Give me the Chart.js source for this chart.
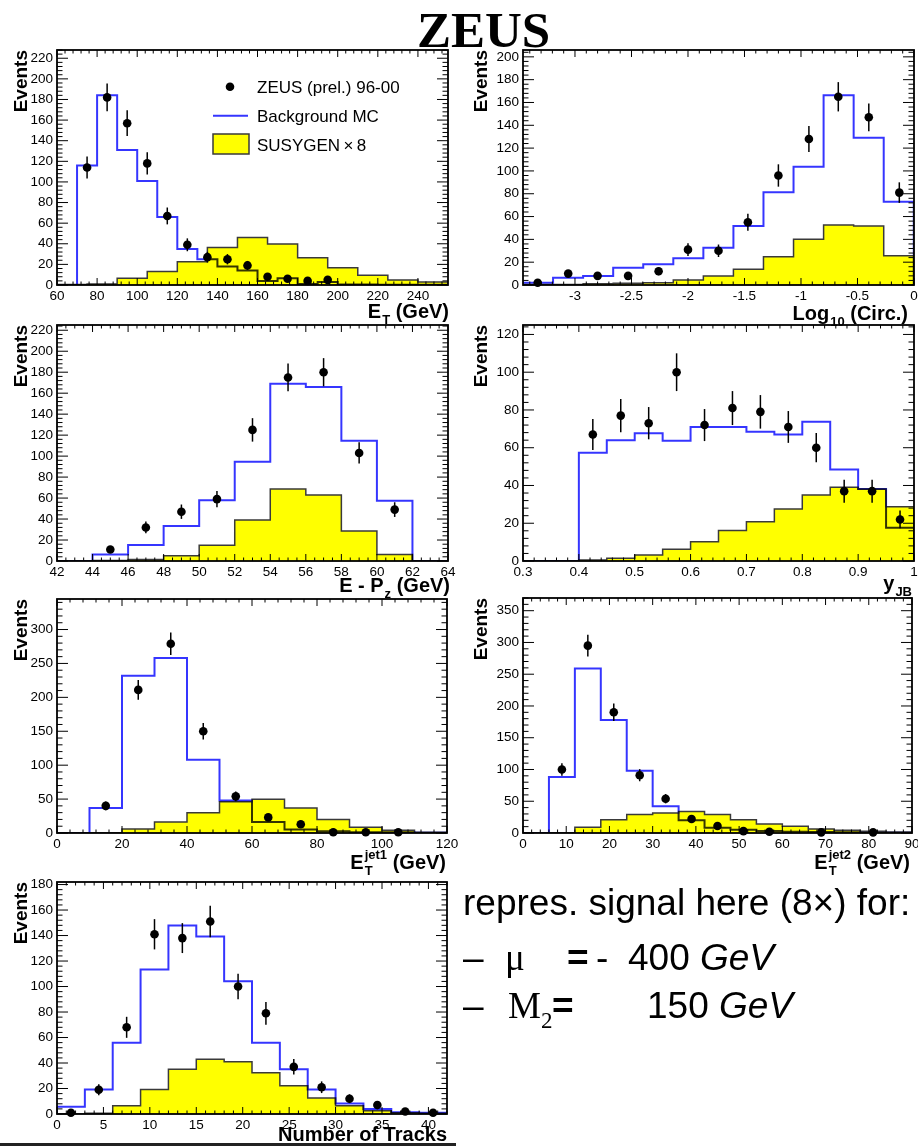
<!DOCTYPE html>
<html>
<head>
<meta charset="utf-8">
<title>ZEUS</title>
<script src="https://cdn.jsdelivr.net/npm/chart.js@4.4.1/dist/chart.umd.min.js"></script>
<style>
  html, body { margin: 0; padding: 0; background: #fff; }
  body { position: relative; width: 918px; height: 1146px; overflow: hidden; font-family: "Liberation Sans", Arial, sans-serif; }
  canvas { position: absolute; }
  .line { position: absolute; white-space: pre; line-height: 1; color: #000; font-size: 37px; }
  .cell { display: inline-block; }
  .serif { font-family: "Liberation Serif", "Times New Roman", serif; }
  #zeus { position: absolute; left: 417px; top: 5px; font: bold 51px/1 "Liberation Serif", "Times New Roman", serif; }
  #rule { position: absolute; left: 0; top: 1143px; width: 456px; height: 3px; background: #222; }
</style>
</head>
<body>
<div id="zeus">ZEUS</div>
<canvas id="cEt"></canvas>
<canvas id="cCirc"></canvas>
<canvas id="cEpz"></canvas>
<canvas id="cYjb"></canvas>
<canvas id="cJet1"></canvas>
<canvas id="cJet2"></canvas>
<canvas id="cTracks"></canvas>

<div class="line" style="left:463px; top:884px;">repres. signal here (8×) for:</div>
<div class="line" style="left:463px; top:939px;"><span class="cell" style="width:42px">–</span><span class="cell serif" style="width:62px">μ</span><span class="cell" style="width:29px; font-weight:bold">=</span><span class="cell" style="width:32px">-</span>400 <i>GeV</i></div>
<div class="line" style="left:463px; top:987px;"><span class="cell" style="width:45px">–</span><span class="cell serif" style="width:44px">M<span style="font-size:23px; position:relative; top:10px">2</span></span><span class="cell" style="width:95px; font-weight:bold">=</span>150 <i>GeV</i></div>
<div id="rule"></div>

<script>
// Binning is [low edge, bin width]; data points carry sqrt(N) errors.

// E_T
const etBkgBins = [60, 10];
const etBkg = [0, 116, 184, 131, 101, 66, 35, 25, 18, 14, 4, 6.5, 1, 3, 0.5, 0.5, 0.3, 0.3, 0.3, 0.3];
const etSigBins = [60, 15];
const etSig = [0.5, 1, 6.5, 13, 22.6, 36.5, 46.2, 39.7, 26.5, 16.8, 9.4, 4.8, 2.9];
const etDataX = [75, 85, 95, 105, 115, 125, 135, 145, 155, 165, 175, 185, 195];
const etData = [114, 182, 157, 118, 67, 39, 27, 25, 19, 8, 6, 4, 5];

// log10(circularity)
const circBins = [-3.46, 0.266];
const circBkg = [2, 6.4, 7.9, 15.2, 18.1, 23.4, 32.7, 51.7, 81.2, 103.6, 166.4, 129, 73];
const circSig = [0.5, 0.5, 1, 1.5, 2, 4.4, 7.9, 13.7, 24.8, 40, 52.6, 51.7, 25.7];
const circDataX = [-3.33, -3.06, -2.8, -2.53, -2.26, -2.0, -1.73, -1.47, -1.2, -0.93, -0.67, -0.4, -0.13];
const circData = [2, 10, 8, 8, 12, 31, 30, 55, 96, 128, 165, 147, 81];

// E - Pz
const epzBins = [42, 2];
const epzBkg = [0, 6.3, 15.2, 33.3, 58, 94.6, 169, 166, 114.6, 57.5, 0];
const epzSig = [0, 0.5, 1.5, 5, 15, 39, 68.6, 62.9, 28.6, 6.3, 0];
const epzDataX = [45, 47, 49, 51, 53, 55, 57, 59, 61];
const epzData = [11, 32, 47, 59, 125, 175, 180, 103, 49];

// y_JB
const yjbBins = [0.3, 0.05];
const yjbBkg = [0, 0, 57.4, 64, 67.6, 63.7, 71, 71, 68.5, 67, 73.8, 48.5, 38.1, 17.6];
const yjbSig = [0, 0, 0.5, 1.4, 3.2, 6.2, 10.2, 16.1, 20.8, 27.5, 35, 39, 38.1, 28.8];
const yjbDataX = [0.425, 0.475, 0.525, 0.575, 0.625, 0.675, 0.725, 0.775, 0.825, 0.875, 0.925, 0.975];
const yjbData = [67, 77, 73, 100, 72, 81, 79, 71, 60, 37, 37, 22];

// E_T of leading jet
const jet1Bins = [0, 10];
const jet1Bkg = [0, 37, 232, 258, 108, 48, 16.4, 5, 2.5, 1, 1, 0.5];
const jet1Sig = [0, 0.5, 6, 16.4, 29.8, 46, 49.6, 36.7, 19.8, 8.4, 4, 1];
const jet1DataX = [15, 25, 35, 45, 55, 65, 75, 85, 95, 105];
const jet1Data = [40, 211, 279, 150, 54, 23, 13, 1, 1, 1];

// E_T of second jet
const jet2Bins = [0, 6];
const jet2Bkg = [0, 88, 259, 178, 98, 42, 20, 8.4, 5.2, 3, 2, 1.5, 1, 0.5, 0.5];
const jet2Sig = [0, 0.5, 9, 21, 29, 31.5, 34, 29, 21, 14.2, 10.5, 6.3, 4.2, 2.6, 1.5];
const jet2DataX = [9, 15, 21, 27, 33, 39, 45, 51, 57, 69, 81];
const jet2Data = [100, 295, 190, 91, 54, 22, 11, 3, 2, 1, 1];

// number of tracks
const trkBins = [0, 3];
const trkBkg = [5.7, 19.3, 55.8, 113.4, 147.9, 139.3, 104.1, 55.8, 35.2, 19.3, 8.3, 3.9, 1.3, 1];
const trkSig = [0, 0.5, 6.5, 19.3, 35.2, 43, 41, 32.3, 22.2, 12.5, 6.5, 2.6, 1, 0.5];
const trkDataX = [1.5, 4.5, 7.5, 10.5, 13.5, 16.5, 19.5, 22.5, 25.5, 28.5, 31.5, 34.5, 37.5, 40.5];
const trkData = [1, 19, 68, 141, 138, 151, 100, 79, 37, 21, 12, 7, 2, 1];

const FONT = '"Liberation Sans", Arial, sans-serif';
const BLUE = '#3535ff';
const YELLOW = '#ffff00';
const OUTLINE = '#3a3a3a';
const TITLE_FONT = 'bold 20px ' + FONT;
const SMALL_FONT = 'bold 13px ' + FONT;

// outline of a histogram as points for a stepped line
function histPoints(bins, values) {
  const [lo, w] = bins;
  const pts = [{ x: lo, y: 0 }];
  values.forEach((v, i) => pts.push({ x: lo + i * w, y: v }));
  const hi = lo + values.length * w;
  pts.push({ x: hi, y: values[values.length - 1] }, { x: hi, y: 0 });
  return pts;
}

function richWidth(ctx, parts) {
  let w = 0;
  parts.forEach((p) => {
    if (p.t) {
      ctx.font = TITLE_FONT;
      w += ctx.measureText(p.t).width;
    } else {
      ctx.font = SMALL_FONT;
      w += Math.max(p.sub ? ctx.measureText(p.sub).width : 0, p.sup ? ctx.measureText(p.sup).width : 0) + 1;
    }
  });
  return w;
}

// axis title with sub/superscripts, right aligned
function drawRich(ctx, parts, right, base) {
  let x = right - richWidth(ctx, parts);
  ctx.textAlign = 'left';
  ctx.textBaseline = 'alphabetic';
  ctx.fillStyle = '#000';
  parts.forEach((p) => {
    if (p.t) {
      ctx.font = TITLE_FONT;
      ctx.fillText(p.t, x, base);
      x += ctx.measureText(p.t).width;
    } else {
      ctx.font = SMALL_FONT;
      let w = 0;
      if (p.sub) {
        ctx.fillText(p.sub, x + 1, base + 6);
        w = ctx.measureText(p.sub).width;
      }
      if (p.sup) {
        ctx.fillText(p.sup, x + 1, base - 10);
        w = Math.max(w, ctx.measureText(p.sup).width);
      }
      x += w + 1;
    }
  });
}

function seg(ctx, x1, y1, x2, y2) {
  ctx.beginPath();
  ctx.moveTo(x1, y1);
  ctx.lineTo(x2, y2);
  ctx.stroke();
}

function drawTicks(ctx, scale, area, step, minor, horizontal) {
  const n0 = Math.ceil(scale.min / minor - 1e-6);
  const n1 = Math.floor(scale.max / minor + 1e-6);
  for (let n = n0; n <= n1; n++) {
    const v = n * minor;
    const r = v / step;
    const major = Math.abs(r - Math.round(r)) < 1e-6;
    const p = scale.getPixelForValue(v);
    if (horizontal) {
      const len = major ? 7 : 3.5;
      seg(ctx, p, area.bottom, p, area.bottom - len);
      seg(ctx, p, area.top, p, area.top + len);
    } else {
      const len = major ? 11 : 5.5;
      seg(ctx, area.left, p, area.left + len, p);
      seg(ctx, area.right, p, area.right - len, p);
    }
  }
}

function drawLegend(ctx, a) {
  const l = a.left, t = a.top;
  ctx.fillStyle = '#000';
  ctx.beginPath();
  ctx.arc(l + 173, t + 36.7, 4.3, 0, Math.PI * 2);
  ctx.fill();
  ctx.strokeStyle = BLUE;
  ctx.lineWidth = 2;
  seg(ctx, l + 156, t + 65.7, l + 191, t + 65.7);
  ctx.fillStyle = YELLOW;
  ctx.fillRect(l + 156, t + 84, 36, 20);
  ctx.strokeStyle = OUTLINE;
  ctx.lineWidth = 1.5;
  ctx.strokeRect(l + 156, t + 84, 36, 20);
  ctx.fillStyle = '#000';
  ctx.font = '17px ' + FONT;
  ctx.textAlign = 'left';
  ctx.textBaseline = 'alphabetic';
  ctx.fillText('ZEUS (prel.) 96-00', l + 200, t + 42.7);
  ctx.fillText('Background MC', l + 200, t + 72.3);
  ctx.fillText('SUSYGEN\u2009×\u20098', l + 200, t + 100.7);
}

// frame, inward ticks, error bars, axis title and legend
const rootFrame = {
  id: 'rootFrame',
  beforeDatasetDraw(chart, args) {
    if (chart.data.datasets[args.index].multiply) {
      chart.ctx.save();
      chart.ctx.globalCompositeOperation = 'multiply';
    }
  },
  afterDatasetDraw(chart, args) {
    if (chart.data.datasets[args.index].multiply) chart.ctx.restore();
  },
  afterDatasetsDraw(chart, args, opts) {
    const ctx = chart.ctx;
    const a = chart.chartArea;
    const xs = chart.scales.x, ys = chart.scales.y;
    ctx.save();

    const pts = chart.data.datasets[0].data;
    const meta = chart.getDatasetMeta(0);
    ctx.strokeStyle = '#000';
    ctx.lineWidth = 1.5;
    meta.data.forEach((el, i) => {
      const v = pts[i].y, e = Math.sqrt(v);
      seg(ctx, el.x, ys.getPixelForValue(v + e), el.x, ys.getPixelForValue(Math.max(v - e, 0)));
    });

    ctx.lineWidth = 1;
    drawTicks(ctx, xs, a, opts.xStep, opts.xMinor, true);
    drawTicks(ctx, ys, a, opts.yStep, opts.yMinor, false);
    ctx.lineWidth = 1.8;
    ctx.strokeRect(a.left, a.top, a.right - a.left, a.bottom - a.top);

    drawRich(ctx, opts.title, opts.titleRight, opts.titleBase);
    if (opts.legend) drawLegend(ctx, a);
    ctx.restore();
  }
};

const fmt = (v) => String(Math.round(v * 1000) / 1000);

function buildPanel(p) {
  const canvas = document.getElementById(p.id);
  const [bx, by, bw, bh] = p.box;
  const [al, at, ar, ab] = p.area;
  canvas.width = bw;
  canvas.height = bh;
  canvas.style.left = bx + 'px';
  canvas.style.top = by + 'px';
  const axisW = al - bx;
  const axisH = 24;
  const tickFont = { family: FONT, size: 13.5 };

  return new Chart(canvas, {
    type: 'line',
    data: {
      datasets: [
        {
          label: 'ZEUS (prel.) 96-00',
          data: p.dataX.map((x, i) => ({ x, y: p.data[i] })),
          showLine: false,
          pointRadius: 4.3,
          pointBackgroundColor: '#000',
          pointBorderWidth: 0,
          clip: false,
          order: 0
        },
        {
          label: 'Background MC',
          data: histPoints(p.bkgBins, p.bkg),
          stepped: true,
          borderColor: BLUE,
          borderWidth: 2,
          pointRadius: 0,
          fill: false,
          order: 1,
          multiply: true
        },
        {
          label: 'SUSYGEN x 8',
          data: histPoints(p.sigBins, p.sig),
          stepped: true,
          borderColor: OUTLINE,
          borderWidth: 1.5,
          backgroundColor: YELLOW,
          fill: 'origin',
          pointRadius: 0,
          order: 2
        }
      ]
    },
    options: {
      responsive: false,
      animation: false,
      events: [],
      layout: {
        padding: { left: 0, top: at - by, right: bx + bw - ar, bottom: by + bh - ab - axisH }
      },
      plugins: {
        legend: { display: false },
        tooltip: { enabled: false },
        rootFrame: {
          xStep: p.xStep, xMinor: p.xMinor, yStep: p.yStep, yMinor: p.yMinor,
          title: p.title, titleRight: p.titleAt[0] - bx, titleBase: p.titleAt[1] - by,
          legend: !!p.legend
        }
      },
      scales: {
        x: {
          type: 'linear',
          min: p.xRange[0],
          max: p.xRange[1],
          grid: { display: false, drawTicks: false },
          border: { display: false },
          afterFit: (s) => { s.height = axisH; },
          ticks: {
            stepSize: p.xStep, includeBounds: false, autoSkip: false,
            maxRotation: 0, minRotation: 0, padding: 3,
            font: tickFont, color: '#000', callback: fmt
          }
        },
        y: {
          type: 'linear',
          min: 0,
          max: p.yMax,
          grid: { display: false, drawTicks: false },
          border: { display: false },
          afterFit: (s) => { s.width = axisW; },
          title: {
            display: true, text: 'Events', align: 'end', color: '#000',
            font: { family: FONT, size: 19, weight: 'bold' },
            padding: { top: 10, bottom: 0 }
          },
          ticks: {
            stepSize: p.yStep, includeBounds: false, autoSkip: false,
            padding: 4, font: tickFont, color: '#000', callback: fmt
          }
        }
      }
    },
    plugins: [rootFrame]
  });
}

const panels = [
  {
    id: 'cEt', box: [0, 34, 470, 296], area: [57, 50, 448, 285],
    xRange: [60, 255], xStep: 20, xMinor: 4, yMax: 228, yStep: 20, yMinor: 4,
    bkgBins: etBkgBins, bkg: etBkg, sigBins: etSigBins, sig: etSig, dataX: etDataX, data: etData,
    title: [{ t: 'E' }, { sub: 'T' }, { t: ' (GeV)' }], titleAt: [449, 318], legend: true
  },
  {
    id: 'cCirc', box: [460, 34, 470, 296], area: [523, 50, 914, 285],
    xRange: [-3.46, 0], xStep: 0.5, xMinor: 0.1, yMax: 206, yStep: 20, yMinor: 4,
    bkgBins: circBins, bkg: circBkg, sigBins: circBins, sig: circSig, dataX: circDataX, data: circData,
    title: [{ t: 'Log' }, { sub: '10' }, { t: ' (Circ.)' }], titleAt: [908, 320]
  },
  {
    id: 'cEpz', box: [0, 309, 470, 291], area: [57, 325, 448, 561],
    xRange: [42, 64], xStep: 2, xMinor: 0.5, yMax: 225, yStep: 20, yMinor: 4,
    bkgBins: epzBins, bkg: epzBkg, sigBins: epzBins, sig: epzSig, dataX: epzDataX, data: epzData,
    title: [{ t: 'E - P' }, { sub: 'z' }, { t: ' (GeV)' }], titleAt: [450, 592]
  },
  {
    id: 'cYjb', box: [460, 309, 470, 291], area: [523, 325, 914, 561],
    xRange: [0.3, 1], xStep: 0.1, xMinor: 0.02, yMax: 125, yStep: 20, yMinor: 4,
    bkgBins: yjbBins, bkg: yjbBkg, sigBins: yjbBins, sig: yjbSig, dataX: yjbDataX, data: yjbData,
    title: [{ t: 'y' }, { sub: 'JB' }], titleAt: [912, 590]
  },
  {
    id: 'cJet1', box: [0, 583, 470, 292], area: [57, 599, 447, 833],
    xRange: [0, 120], xStep: 20, xMinor: 4, yMax: 345, yStep: 50, yMinor: 10,
    bkgBins: jet1Bins, bkg: jet1Bkg, sigBins: jet1Bins, sig: jet1Sig, dataX: jet1DataX, data: jet1Data,
    title: [{ t: 'E' }, { sub: 'T', sup: 'jet1' }, { t: ' (GeV)' }], titleAt: [446, 869]
  },
  {
    id: 'cJet2', box: [460, 582, 470, 293], area: [523, 598, 912, 833],
    xRange: [0, 90], xStep: 10, xMinor: 2, yMax: 370, yStep: 50, yMinor: 10,
    bkgBins: jet2Bins, bkg: jet2Bkg, sigBins: jet2Bins, sig: jet2Sig, dataX: jet2DataX, data: jet2Data,
    title: [{ t: 'E' }, { sub: 'T', sup: 'jet2' }, { t: ' (GeV)' }], titleAt: [910, 869]
  },
  {
    id: 'cTracks', box: [0, 866, 470, 280], area: [57, 882, 447, 1114],
    xRange: [0, 42], xStep: 5, xMinor: 1, yMax: 182, yStep: 20, yMinor: 4,
    bkgBins: trkBins, bkg: trkBkg, sigBins: trkBins, sig: trkSig, dataX: trkDataX, data: trkData,
    title: [{ t: 'Number of Tracks' }], titleAt: [447, 1141]
  }
];

panels.forEach(buildPanel);
</script>
</body>
</html>
